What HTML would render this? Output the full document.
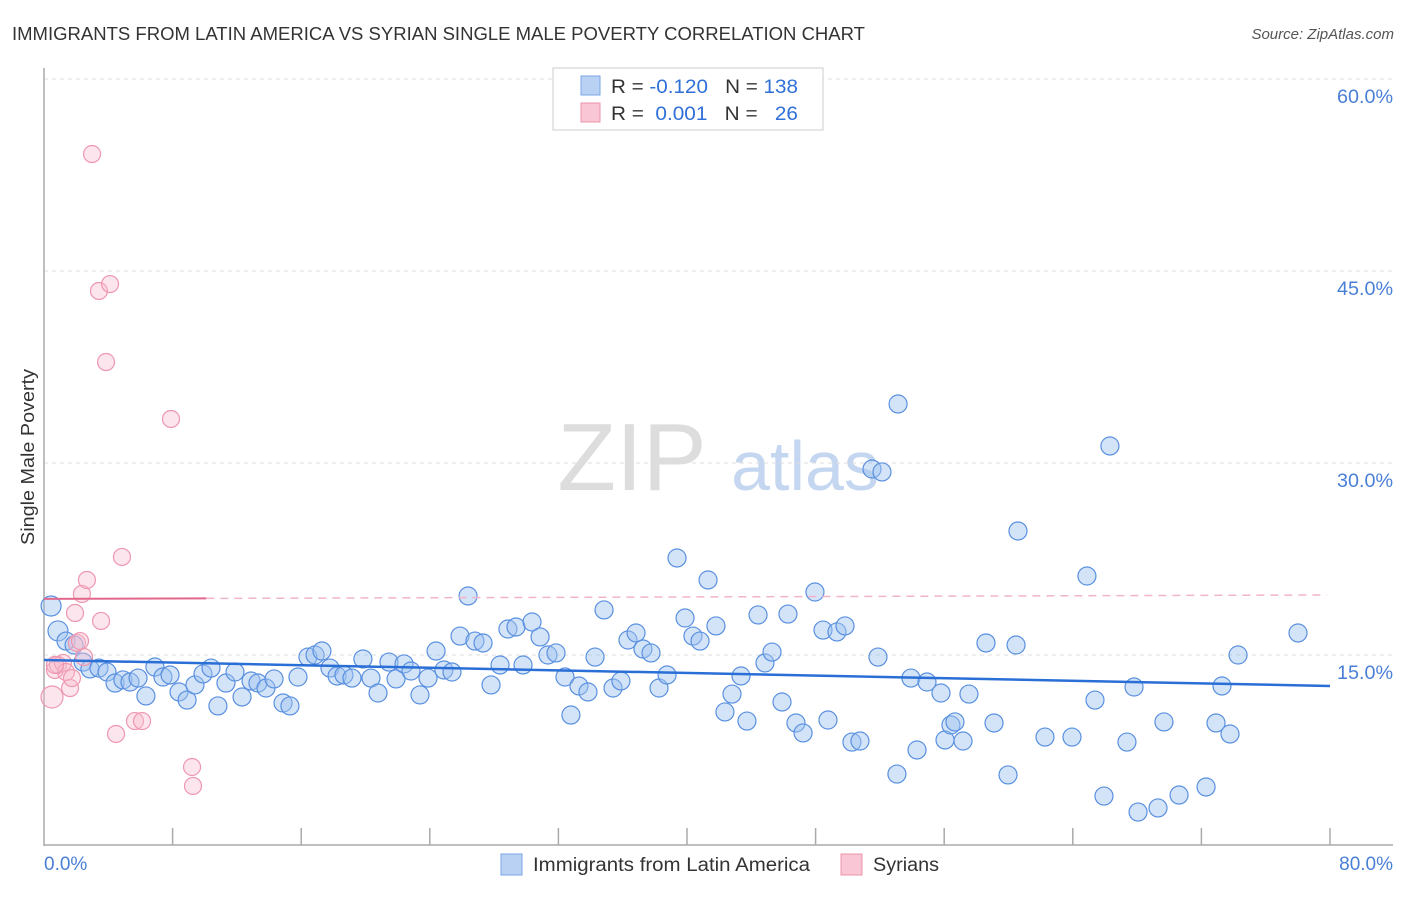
<!DOCTYPE html>
<html><head><meta charset="utf-8"><style>
body{margin:0;background:#fff;font-family:"Liberation Sans",sans-serif;}
svg text{font-family:"Liberation Sans",sans-serif;white-space:pre;}
</style></head><body>
<svg id="chart" width="1406" height="892" xmlns="http://www.w3.org/2000/svg" xml:space="preserve">
<text x="12" y="40" font-size="18" fill="#333" textLength="853" lengthAdjust="spacingAndGlyphs">IMMIGRANTS FROM LATIN AMERICA VS SYRIAN SINGLE MALE POVERTY CORRELATION CHART</text>
<text x="1394" y="39" font-size="15" fill="#555" text-anchor="end" font-style="italic">Source: ZipAtlas.com</text>
<g>
<text x="632" y="490" font-size="96" fill="#ddd" font-family="Liberation Serif" text-anchor="middle">ZIP</text>
<text x="805" y="490" font-size="70" fill="#c5d7f0" text-anchor="middle">atlas</text>
</g>
<g id="grid"></g>
<line x1="44" y1="68" x2="44" y2="846" stroke="#aaa" stroke-width="1.5"/>
<line x1="44" y1="845" x2="1393" y2="845" stroke="#aaa" stroke-width="1.5"/>
<g id="ticks"></g>
<text transform="translate(34,457) rotate(-90)" font-size="18" fill="#333" text-anchor="middle" textLength="176" lengthAdjust="spacingAndGlyphs">Single Male Poverty</text>
<text x="44" y="870" font-size="19" fill="#4a7fd6">0.0%</text>
<text x="1393" y="870" font-size="19" fill="#4a7fd6" text-anchor="end">80.0%</text>
<g id="pts"></g>
<g id="trends"></g>
<g>
<rect x="553" y="68" width="270" height="62" fill="#fff" stroke="#ccc"/>
<rect x="581" y="76" width="19" height="19" fill="#b9d1f3" stroke="#7aa5e6"/>
<rect x="581" y="103" width="19" height="19" fill="#f8c6d4" stroke="#ec93ad"/>
<text x="611" y="93" font-size="19" fill="#333" textLength="187" lengthAdjust="spacingAndGlyphs">R = <tspan fill="#2f6fd8">-0.120</tspan>   N = <tspan fill="#2f6fd8">138</tspan></text>
<text x="611" y="120" font-size="19" fill="#333" textLength="187" lengthAdjust="spacingAndGlyphs">R =  <tspan fill="#2f6fd8">0.001</tspan>   N =   <tspan fill="#2f6fd8">26</tspan></text>
</g>
<g>
<rect x="501" y="854" width="21" height="21" fill="#b9d1f3" stroke="#7aa5e6"/>
<text x="533" y="871" font-size="19" fill="#333" textLength="277" lengthAdjust="spacingAndGlyphs">Immigrants from Latin America</text>
<rect x="841" y="854" width="21" height="21" fill="#f8c6d4" stroke="#ec93ad"/>
<text x="873" y="871" font-size="19" fill="#333" textLength="66" lengthAdjust="spacingAndGlyphs">Syrians</text>
</g>
</svg>
<script>
const yTicks=[15,30,45,60];
const yTickLabels=["15.0%","30.0%","45.0%","60.0%"];
const xTicks=[8,16,24,32,40,48,56,64,72,80];
const blueX=[0.44,0.87,1.37,1.87,2.43,2.86,3.42,3.92,4.42,4.91,5.35,5.85,6.34,6.90,7.40,7.84,8.40,8.90,9.39,9.89,10.39,10.82,11.32,11.88,12.32,12.88,13.31,13.81,14.31,14.87,15.30,15.80,16.42,16.86,17.29,17.79,18.23,18.66,19.16,19.84,20.34,20.78,21.46,21.90,22.40,22.83,23.39,23.89,24.39,24.88,25.38,25.88,26.38,26.81,27.31,27.81,28.37,28.86,29.36,29.80,30.36,30.86,31.35,31.85,32.41,32.78,33.28,33.84,34.28,34.84,35.40,35.89,36.33,36.83,37.26,37.76,38.26,38.76,39.38,39.88,40.37,40.81,41.31,41.80,42.36,42.80,43.36,43.73,44.42,44.85,45.29,45.91,46.28,46.78,47.22,47.96,48.46,48.77,49.33,49.83,50.26,50.76,51.88,51.51,52.13,53.13,53.06,53.93,54.31,54.93,55.80,56.05,56.42,56.67,57.17,57.54,58.60,59.10,59.97,60.47,60.59,62.27,63.95,64.88,65.38,65.94,66.31,67.37,67.81,68.06,69.30,69.67,70.61,72.29,72.91,73.28,73.78,74.28,78.01];
const blueY=[18.83,16.88,16.09,15.78,14.45,13.91,13.98,13.67,12.81,13.05,12.89,13.20,11.80,14.06,13.28,13.44,12.11,11.48,12.66,13.52,13.98,11.02,12.81,13.67,11.72,12.97,12.81,12.42,13.13,11.25,11.02,13.28,14.84,15.00,15.31,13.98,13.36,13.44,13.20,14.69,13.20,12.03,14.45,13.13,14.30,13.75,11.88,13.20,15.31,13.83,13.67,16.48,19.61,16.09,15.94,12.66,14.22,17.03,17.19,14.22,17.58,16.41,15.00,15.16,13.28,10.31,12.58,12.11,14.84,18.52,12.42,12.97,16.17,16.72,15.47,15.16,12.42,13.44,22.58,17.89,16.48,16.09,20.86,17.27,10.55,11.95,13.36,9.84,18.13,14.38,15.23,11.33,18.20,9.69,8.91,19.92,16.95,9.92,16.80,17.27,8.20,8.28,14.84,29.53,29.30,34.61,5.70,13.20,7.58,12.89,12.03,8.36,9.53,9.77,8.28,11.95,15.94,9.69,5.63,15.78,24.69,8.59,8.59,21.17,11.48,3.98,31.33,8.20,12.50,2.73,3.05,9.77,4.06,4.69,9.69,12.58,8.83,15.00,16.72];
const pinkX=[0.5,0.68,0.87,1.18,1.37,1.62,1.74,1.93,2.05,2.24,2.36,2.49,2.67,2.99,3.42,3.55,3.86,4.11,4.48,4.85,5.66,6.10,7.90,9.21,9.27,0.68];
const pinkY=[11.72,13.83,14.22,14.38,13.67,12.42,13.20,18.28,15.94,16.09,19.77,14.84,20.86,54.14,43.44,17.66,37.89,43.98,8.83,22.66,9.84,9.84,33.44,6.25,4.77,14.22];
const blueTrend=[14.61,12.58];
const pinkTrend=[19.38,19.69];
const pinkSolidEnd=10.1;

const NS="http://www.w3.org/2000/svg";
const X=v=>44+v/80*1286;
const Y=v=>847-v*12.8;
function mk(tag,attrs,parent){const e=document.createElementNS(NS,tag);for(const k in attrs)e.setAttribute(k,attrs[k]);parent.appendChild(e);return e;}
const grid=document.getElementById('grid');
yTicks.forEach((t,i)=>{
  const l=mk('line',{x1:44,x2:1393,y1:Y(t),y2:Y(t),stroke:'#ddd','stroke-dasharray':'4,4'},grid);
  
  
  const tx=mk('text',{x:1393,y:Y(t)+24,'font-size':19,fill:'#4a7fd6','text-anchor':'end',textLength:56,lengthAdjust:'spacingAndGlyphs'},grid);
  tx.textContent=yTickLabels[i];
  
  
});
const ticks=document.getElementById('ticks');
xTicks.forEach(t=>{
  const l=mk('line',{x1:X(t),x2:X(t),y1:828,y2:845,stroke:'#aaa','stroke-width':1.5},ticks);
  
  
});
const pts=document.getElementById('pts');
blueX.forEach((v,i)=>{
  const c=mk('circle',{cx:X(v),cy:Y(blueY[i]),r:i<2?10:9,fill:'rgba(160,195,240,0.45)',stroke:'#5a90e0','stroke-width':1.2},pts);
  
  
});
pinkX.forEach((v,i)=>{
  const c=mk('circle',{cx:X(v),cy:Y(pinkY[i]),r:i==0?11:8.5,fill:'rgba(248,190,208,0.4)',stroke:'#ee97b1','stroke-width':1.2},pts);
  
  
});
const tr=document.getElementById('trends');
const bt=mk('line',{x1:X(0),y1:Y(blueTrend[0]),x2:X(80),y2:Y(blueTrend[1]),stroke:'#2a6fd6','stroke-width':2.5},tr);


const pAt=v=>pinkTrend[0]+(pinkTrend[1]-pinkTrend[0])*v/80;
const ps=mk('line',{x1:X(0),y1:Y(pinkTrend[0]),x2:X(pinkSolidEnd),y2:Y(pAt(pinkSolidEnd)),stroke:'#e2678d','stroke-width':2},tr);


const pd=mk('line',{x1:X(pinkSolidEnd),y1:Y(pAt(pinkSolidEnd)),x2:X(79.8),y2:Y(pinkTrend[1]),stroke:'#f2b5c7','stroke-width':1.5,'stroke-dasharray':'8,6'},tr);


</script>
</body></html>
